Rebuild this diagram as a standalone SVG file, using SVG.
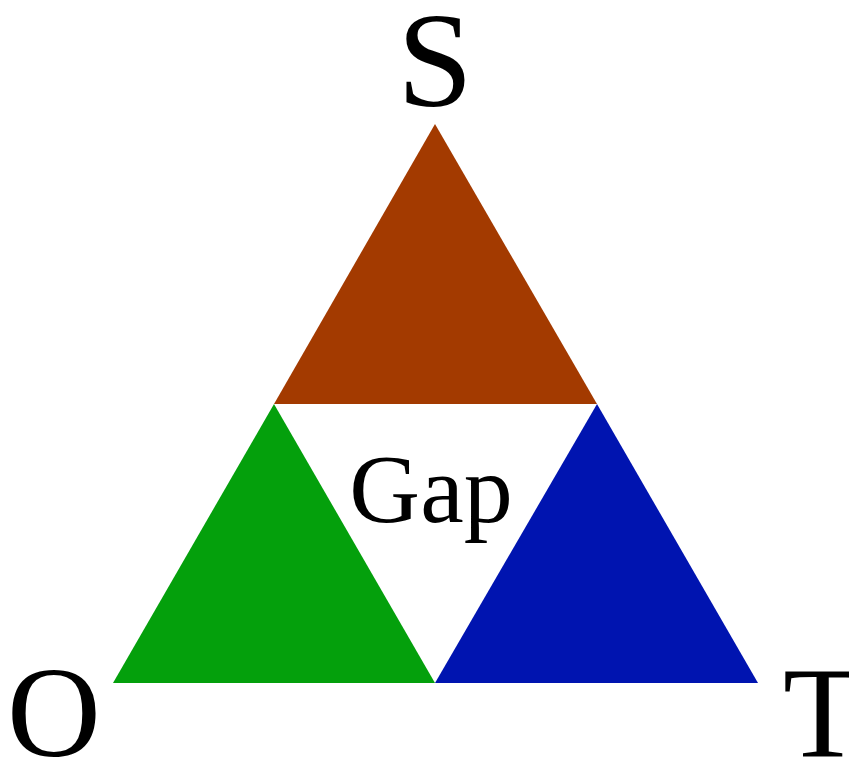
<svg xmlns="http://www.w3.org/2000/svg" width="849" height="760" viewBox="0 0 849 760">
<style>
text{font-family:"Liberation Serif","Times New Roman",serif;fill:#000}
.v{font-size:130px}
.s{font-size:136px}
.g{font-size:98px}
</style>
<rect width="849" height="760" fill="#fff"/>
<g id="top"><polygon points="435,124 274,404 597,404" fill="#A33A00"/></g>
<g id="left"><polygon points="274,404 113,683 435,683" fill="#04A00C"/></g>
<g id="right"><polygon points="597,404 435,683 758,683" fill="#0014B0"/></g>
<g id="labels">
<text class="s" x="435" y="106" text-anchor="middle">S</text>
<text class="v" x="54" y="756" text-anchor="middle">O</text>
<text class="v" x="783" y="756">T</text>
<text class="g" x="431" y="522" text-anchor="middle">Gap</text>
</g>
</svg>
